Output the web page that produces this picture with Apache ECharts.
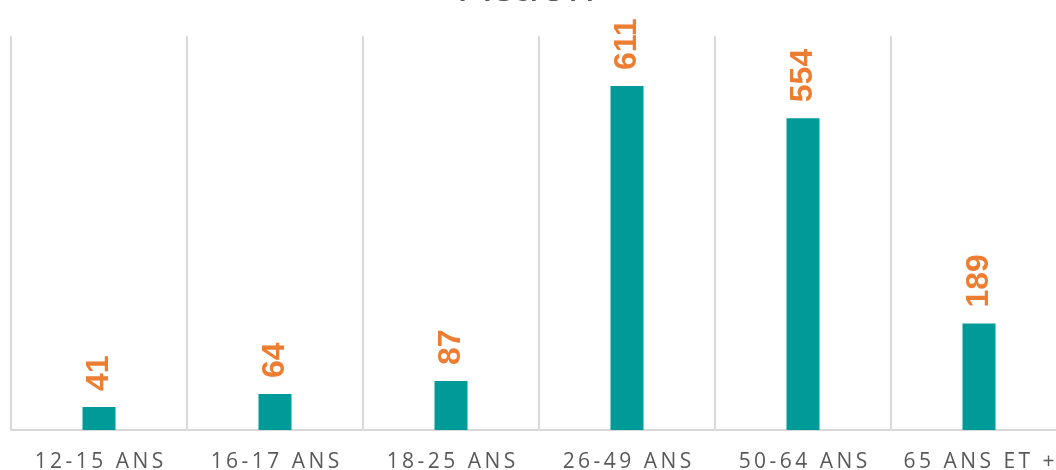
<!DOCTYPE html>
<html>
<head>
<meta charset="utf-8">
<script src="https://cdn.jsdelivr.net/npm/echarts@6/dist/echarts.min.js"></script>
<style>
  html, body { margin: 0; padding: 0; background: #fff; }
  #chart { width: 1056px; height: 470px; }
</style>
</head>
<body>
<div id="chart"></div>
<script>
// Age groups and number of people per group
const titleText = 'Action';
const categories = ['12-15 ANS', '16-17 ANS', '18-25 ANS', '26-49 ANS', '50-64 ANS', '65 ANS ET +'];
const values = [41, 64, 87, 611, 554, 189];
const yMax = 700;

// spread the letters of the category labels apart with thin spaces
const spaced = s => s.split('').join('\u2009');

const chart = echarts.init(document.getElementById('chart'), null, { renderer: 'canvas' });
chart.setOption({
  animation: false,
  title: {
    text: titleText,
    left: 'center',
    top: -40,
    textStyle: { color: '#595959', fontSize: 46, fontWeight: 'normal', fontFamily: 'Open Sans' }
  },
  grid: { left: 11, width: 1056, top: 36, bottom: 40, containLabel: false, outerBoundsMode: 'none' },
  xAxis: {
    type: 'category',
    data: categories,
    boundaryGap: true,
    axisLine: { show: true, lineStyle: { color: '#d9d9d9', width: 2 } },
    axisTick: { show: false },
    splitLine: { show: true, lineStyle: { color: '#d9d9d9', width: 2 } },
    axisLabel: {
      color: '#595959',
      fontSize: 21,
      fontFamily: 'Open Sans',
      margin: 22,
      interval: 0,
      hideOverlap: false,
      formatter: v => spaced(v)
    }
  },
  yAxis: {
    type: 'value',
    min: 0,
    max: yMax,
    show: false,
    splitLine: { show: false }
  },
  series: [{
    type: 'bar',
    data: values,
    barWidth: 33,
    itemStyle: { color: '#009a98' },
    label: {
      show: true,
      position: 'top',
      rotate: 90,
      align: 'left',
      verticalAlign: 'middle',
      distance: 16,
      color: '#ed7d31',
      fontSize: 32,
      fontWeight: 'bold',
      fontFamily: 'Liberation Sans'
    }
  }]
});
</script>
</body>
</html>
